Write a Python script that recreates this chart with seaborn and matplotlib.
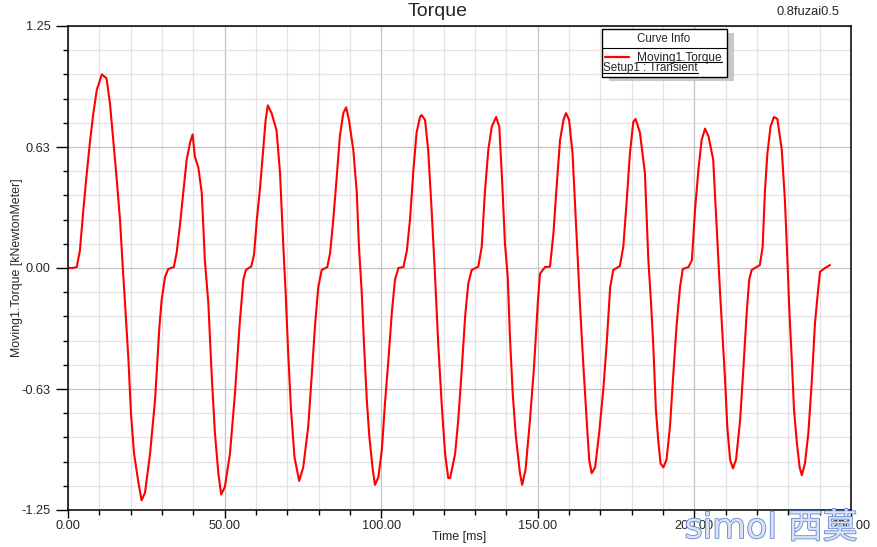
import matplotlib
matplotlib.use("Agg")
import matplotlib.pyplot as plt
import matplotlib.patheffects as pe
from matplotlib.lines import Line2D
from matplotlib.patches import Rectangle
from matplotlib.ticker import MultipleLocator, FixedLocator, FixedFormatter
import seaborn as sns
import pandas as pd

# ---------------- data ----------------
time_ms = [0, 1.5, 2.8, 3.8, 4.9, 6.0, 7.0, 8.1, 9.2, 10.8, 12.3, 13.4, 14.5, 15.5, 16.6, 17.5,
           18.2, 19.3, 20.1, 21.1, 22.5, 23.5, 24.6, 26.2, 27.8, 29.2, 29.9, 31.0, 32.0, 33.8,
           34.7, 35.8, 36.8, 37.9, 39.0, 39.8, 40.5, 41.6, 42.7, 43.7, 44.8, 45.9, 46.9, 48.0,
           48.9, 50.1, 51.7, 53.3, 54.9, 56.0, 56.8, 58.5, 59.4, 60.3, 61.3, 62.4, 63.1, 63.8,
           65.0, 66.6, 67.7, 68.7, 69.5, 70.3, 71.2, 72.3, 73.8, 75.1, 76.7, 77.8, 78.9, 79.9,
           81.0, 82.8, 83.7, 84.7, 85.8, 86.8, 87.9, 88.8, 89.7, 91.1, 92.2, 92.9, 93.8, 94.5,
           95.4, 96.2, 97.3, 98.0, 99.1, 100.2, 101.2, 102.3, 103.4, 104.4, 105.5, 107.1, 108.2,
           109.2, 110.3, 111.3, 112.4, 112.9, 114.0, 115.0, 116.1, 117.2, 118.2, 119.3, 120.4,
           121.4, 122.0, 123.6, 124.6, 125.7, 126.8, 127.8, 128.9, 131.0, 132.1, 133.1, 134.2,
           135.3, 136.7, 137.7, 138.7, 139.5, 140.4, 141.1, 142.0, 143.0, 144.3, 145.0, 146.1,
           147.5, 148.8, 150.0, 150.7, 152.3, 153.9, 155.0, 156.0, 157.1, 158.2, 159.0, 160.0,
           161.1, 162.4, 163.5, 164.5, 165.6, 166.4, 167.2, 168.3, 169.6, 170.9, 172.0, 173.1,
           174.1, 176.2, 177.3, 178.4, 179.4, 180.5, 181.2, 182.6, 184.2, 185.3, 186.1, 186.9,
           187.7, 188.5, 189.2, 190.1, 191.1, 192.2, 193.3, 194.3, 195.4, 196.3, 198.1, 199.2,
           200.2, 201.3, 202.3, 203.4, 204.5, 206.0, 207.1, 208.2, 209.0, 209.8, 210.5, 211.4,
           212.3, 213.3, 214.6, 215.6, 216.7, 217.5, 218.3, 220.9, 221.8, 222.5, 223.3, 224.3,
           225.4, 226.5, 227.9, 228.9, 229.7, 230.3, 231.1, 231.8, 232.7, 233.6, 234.3, 235.3,
           236.4, 237.5, 238.5, 239.4, 240.1, 241.7, 243.3]
torque_knm = [0, 0.0, 0.005, 0.09, 0.30, 0.49, 0.65, 0.80, 0.92, 1.00, 0.98, 0.85, 0.65, 0.47, 0.25, 0.0,
              -0.18, -0.475, -0.75, -0.96, -1.11, -1.20, -1.16, -0.96, -0.68, -0.30, -0.165, -0.045, -0.005, 0.005,
              0.08, 0.23, 0.39, 0.56, 0.65, 0.69, 0.575, 0.52, 0.39, 0.04, -0.18, -0.56, -0.85, -1.06,
              -1.17, -1.13, -0.96, -0.65, -0.27, -0.06, -0.01, 0.008, 0.07, 0.25, 0.41, 0.63, 0.765, 0.84,
              0.80, 0.71, 0.49, 0.13, -0.13, -0.44, -0.73, -0.975, -1.10, -1.03, -0.82, -0.56, -0.29, -0.10,
              -0.01, 0.005, 0.08, 0.25, 0.47, 0.68, 0.80, 0.83, 0.765, 0.61, 0.39, 0.11, -0.13, -0.39,
              -0.68, -0.87, -1.04, -1.12, -1.08, -0.94, -0.70, -0.475, -0.23, -0.06, 0.0, 0.005, 0.09,
              0.25, 0.51, 0.70, 0.78, 0.79, 0.765, 0.61, 0.30, -0.045, -0.39, -0.70, -0.96,
              -1.085, -1.085, -0.96, -0.785, -0.53, -0.25, -0.08, -0.01, 0.007, 0.11, 0.39, 0.61,
              0.73, 0.78, 0.73, 0.42, 0.13, -0.045, -0.355, -0.65, -0.87, -1.06, -1.12, -1.04,
              -0.785, -0.51, -0.18, -0.03, 0.005, 0.007, 0.18, 0.42, 0.66, 0.765, 0.80, 0.765,
              0.59, 0.16, -0.20, -0.49, -0.785, -0.99, -1.06, -1.03, -0.85, -0.63, -0.39, -0.10,
              -0.01, 0.01, 0.11, 0.35, 0.59, 0.755, 0.77, 0.70, 0.49, 0.04, -0.165, -0.41,
              -0.73, -0.90, -1.01, -1.03, -0.99, -0.82, -0.54, -0.30, -0.10, -0.005, 0.005, 0.04,
              0.30, 0.51, 0.66, 0.72, 0.68, 0.56, 0.21, -0.13, -0.355, -0.58, -0.82, -0.99,
              -1.035, -0.99, -0.785, -0.53, -0.23, -0.06, -0.01, 0.015, 0.11, 0.39, 0.59, 0.73,
              0.78, 0.77, 0.61, 0.35, 0.04, -0.215, -0.475, -0.73, -0.90, -1.03, -1.07, -1.01,
              -0.85, -0.58, -0.285, -0.13, -0.02, 0.0, 0.015]

y_ticks = [-1.25, -0.625, 0.0, 0.625, 1.25]
y_tick_labels = ["-1.25", "-0.63", "0.00", "0.63", "1.25"]
x_ticks = [0, 50, 100, 150, 200, 250]
x_tick_labels = ["0.00", "50.00", "100.00", "150.00", "200.00", "250.00"]

title = "Torque"
design_name = "0.8fuzai0.5"
x_label = "Time [ms]"
y_label = "Moving1.Torque [kNewtonMeter]"
legend_title = "Curve Info"
series_name = "Moving1.Torque"
setup_name = "Setup1 : Transient"
watermark = "simol 西莫"

df = pd.DataFrame({"Time": time_ms, "Torque": torque_knm})

# ---------------- figure ----------------
sns.set_style("white")
plt.rcParams["font.family"] = ["Liberation Sans", "DejaVu Sans"]

W, H = 878, 547
fig = plt.figure(figsize=(W / 100, H / 100), dpi=100)

def fx(px):
    return px / W

def fy(py):
    return 1 - py / H

ax_l, ax_r, ax_t, ax_b = 68, 851, 26, 510
ax = fig.add_axes([fx(ax_l), fy(ax_b), (ax_r - ax_l) / W, (ax_b - ax_t) / H])

sns.lineplot(data=df, x="Time", y="Torque", ax=ax, color="#ff0000", linewidth=1.5,
             estimator=None, sort=False, legend=False)

ax.set_xlim(0, 250)
ax.set_ylim(-1.25, 1.25)

ax.xaxis.set_major_locator(FixedLocator(x_ticks))
ax.xaxis.set_major_formatter(FixedFormatter(x_tick_labels))
ax.xaxis.set_minor_locator(MultipleLocator(10))
ax.yaxis.set_major_locator(FixedLocator(y_ticks))
ax.yaxis.set_major_formatter(FixedFormatter(y_tick_labels))
ax.yaxis.set_minor_locator(MultipleLocator(0.125))

ax.grid(which="minor", color="#e3e3e3", linewidth=0.9)
ax.grid(which="major", color="#c4c4c4", linewidth=0.9)
ax.set_axisbelow(True)

for s in ax.spines.values():
    s.set_color("black")
    s.set_linewidth(1.1)
    s.set_visible(True)

ax.tick_params(axis="y", which="major", direction="out", length=8.6, width=1.0,
               color="black", labelsize=9.2, pad=4, left=True)
ax.tick_params(axis="y", which="minor", direction="out", length=3.6, width=1.0,
               color="black", left=True)
ax.tick_params(axis="x", which="major", direction="out", length=5.8, width=1.0,
               color="black", labelsize=9.2, pad=1.5, bottom=True)
ax.tick_params(axis="x", which="minor", direction="out", length=3.6, width=1.0,
               color="black", bottom=True)

ax.set_xlabel(x_label, fontsize=9)
ax.set_ylabel(y_label, fontsize=8.9)
ax.xaxis.set_label_coords(0.5, -0.043)
ax.yaxis.set_label_coords(-0.058, 0.5)

# title and design name
fig.text(fx(438), fy(12), title, ha="center", va="center", fontsize=14)
fig.text(fx(808), fy(12), design_name, ha="center", va="center", fontsize=9.3)

# ---------------- Curve Info box ----------------
bx0, bx1, by0, by1 = 602, 727, 29, 77
shadow = Rectangle((fx(bx0 + 7), fy(by1 + 4)), (bx1 - bx0) / W, (by1 - by0) / H,
                   transform=fig.transFigure, facecolor="#c8c8c8", edgecolor="none", zorder=5)
box = Rectangle((fx(bx0), fy(by1)), (bx1 - bx0) / W, (by1 - by0) / H,
                transform=fig.transFigure, facecolor="white", edgecolor="black",
                linewidth=1.0, zorder=6)
fig.add_artist(shadow)
fig.add_artist(box)
fig.add_artist(Line2D([fx(bx0), fx(bx1)], [fy(48), fy(48)], transform=fig.transFigure,
                      color="black", linewidth=0.8, zorder=7))
fig.text(fx(664), fy(38.5), legend_title, ha="center", va="center", fontsize=8.3, zorder=8)
fig.add_artist(Line2D([fx(605), fx(629)], [fy(57), fy(57)], transform=fig.transFigure,
                      color="#ff0000", linewidth=1.6, zorder=8))
base1, base2 = 60.5, 71.0
t1 = fig.text(fx(637), fy(base1), series_name, ha="left", va="baseline", fontsize=8.6, zorder=8)
t2 = fig.text(fx(603), fy(base2), setup_name, ha="left", va="baseline", fontsize=8.4, zorder=8)

# watermark
fig.text(fx(771), fy(528), watermark, ha="center", va="center", fontsize=25,
         family=["DejaVu Sans", "Noto Sans CJK SC"], color="#dbe4f7", alpha=0.95, zorder=20,
         path_effects=[pe.withStroke(linewidth=1.1, foreground="#5479c8")])

# underline legend texts (1.5 px under the baseline)
fig.canvas.draw()
r = fig.canvas.get_renderer()
for t, base in ((t1, base1), (t2, base2)):
    bb = t.get_window_extent(r).transformed(fig.transFigure.inverted())
    yline = fy(base + 1.5)
    fig.add_artist(Line2D([bb.x0, bb.x1], [yline, yline], transform=fig.transFigure,
                          color="black", linewidth=0.8, zorder=8))

fig.savefig("out.png", dpi=100)
